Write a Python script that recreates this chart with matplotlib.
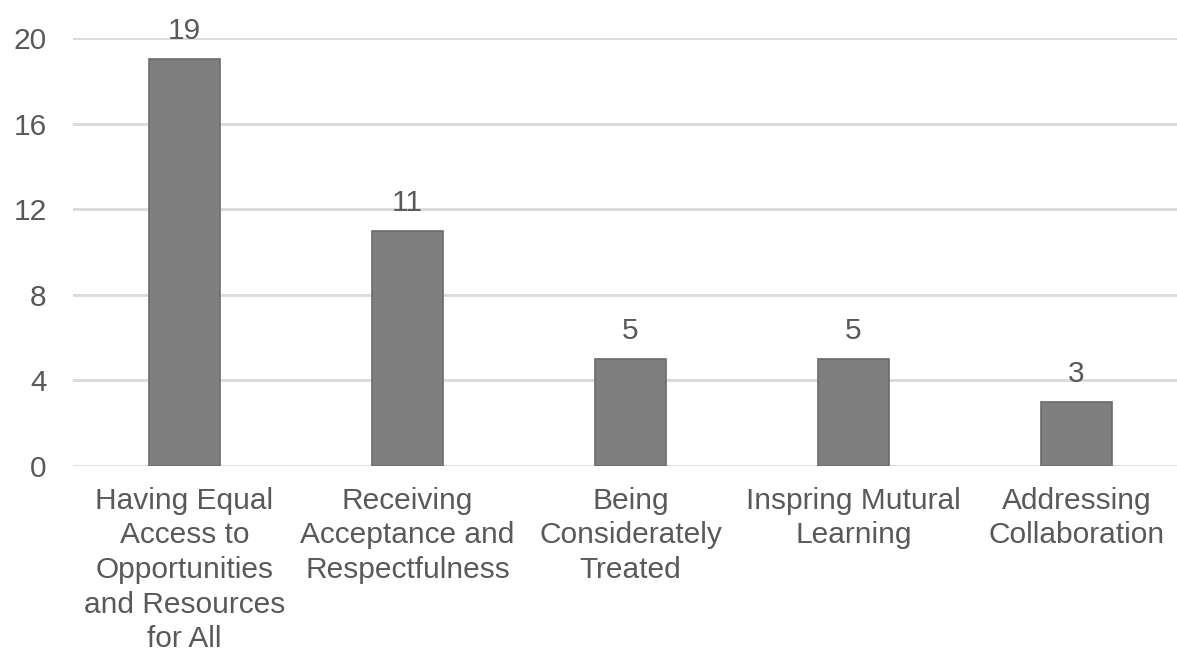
import matplotlib
matplotlib.use('Agg')

import matplotlib.pyplot as plt

# Données
categories = [
    "Having Equal\nAccess to\nOpportunities\nand Resources\nfor All",
    "Receiving\nAcceptance and\nRespectfulness",
    "Being\nConsiderately\nTreated",
    "Inspring Mutural\nLearning",
    "Addressing\nCollaboration",
]
counts = [19, 11, 5, 5, 3]
y_ticks = [0, 4, 8, 12, 16, 20]

plt.rcParams['font.family'] = ['Liberation Sans', 'DejaVu Sans']
text_color = '#595959'
fs = 21.5

fig = plt.figure(figsize=(11.77, 6.54), dpi=100)
ax = fig.add_axes([0.062, 0.2875, 0.938, 0.6545])

x = list(range(len(categories)))
bars = ax.bar(x, counts, width=0.32, color='#7f7f7f', edgecolor='#6b6b6b',
              linewidth=1.2, zorder=3)

# Valeurs au-dessus des barres
for bar, v in zip(bars, counts):
    ax.text(bar.get_x() + bar.get_width() / 2, v + 0.93, str(v),
            ha='center', va='baseline', fontsize=fs, color=text_color)

ax.set_ylim(0, 20)
ax.set_xlim(-0.5, 4.45)
ax.set_yticks(y_ticks)
ax.set_xticks(x)
ax.set_xticklabels(categories, fontsize=fs, color=text_color, linespacing=1.3)
ax.tick_params(axis='y', labelsize=fs, labelcolor=text_color, length=0, pad=19)
ax.tick_params(axis='x', length=0, pad=15)

# Grille horizontale
ax.grid(True, axis='y', color='#d9d9d9', linewidth=2, zorder=0)
for s in ax.spines.values():
    s.set_visible(False)

fig.savefig('out.png', dpi=100)
plt.close(fig)
